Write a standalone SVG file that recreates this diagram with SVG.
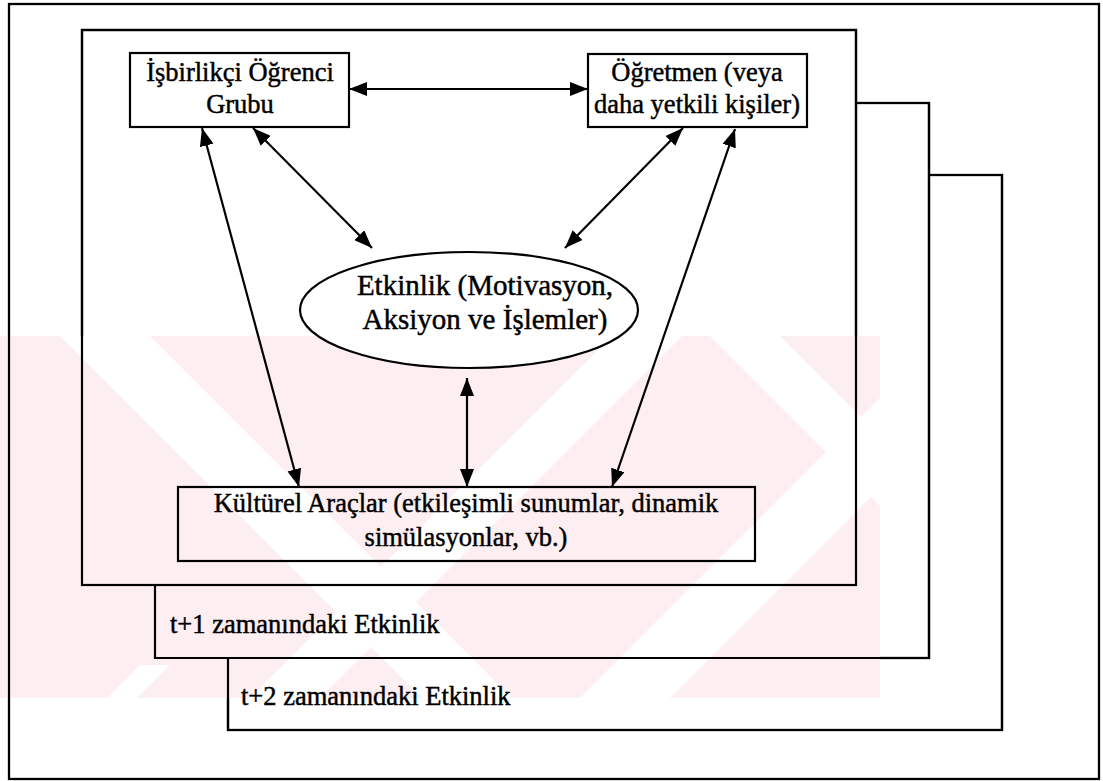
<svg xmlns="http://www.w3.org/2000/svg" width="1103" height="781" viewBox="0 0 1103 781">
  <style>
    .frame { fill: #ffffff; stroke: #000000; stroke-width: 2.3; }
    .box { fill: #ffffff; stroke: #000000; stroke-width: 2.2; }
    .box-clear { fill: none; stroke: #000000; stroke-width: 2.2; }
    .lbl { font-family: "Liberation Serif", "DejaVu Serif", "Times New Roman", serif; font-size: 26.5px; fill: #000000; stroke: #000000; stroke-width: 0.45; }
    .lbl-big { font-family: "Liberation Serif", "DejaVu Serif", "Times New Roman", serif; font-size: 29px; fill: #000000; stroke: #000000; stroke-width: 0.45; }
    .mid { text-anchor: middle; }
    .link { stroke: #000000; stroke-width: 2.2; fill: none; marker-start: url(#head); marker-end: url(#head); }
    .stamp { fill: #fdeef1; }
    .gap { fill: #ffffff; }
  </style>
  <defs>
    <marker id="head" markerUnits="userSpaceOnUse" markerWidth="19" markerHeight="14" refX="18" refY="7" orient="auto-start-reverse">
      <path d="M0,0 L18,7 L0,14 Z" fill="#000000"/>
    </marker>
    <clipPath id="stampClip">
      <rect x="0" y="336" width="880" height="362"/>
    </clipPath>
  </defs>

  <rect x="0" y="0" width="1103" height="781" fill="#ffffff"/>

  <!-- stacked activity frames: t+2 (back), t+1, current (front) -->
  <g id="outer-frame">
    <rect class="frame" x="9" y="4" width="1090" height="775"/>
  </g>
  <g id="frame-t2">
    <rect class="frame" x="228" y="175" width="774" height="555"/>
  </g>
  <g id="frame-t1">
    <rect class="frame" x="155" y="103" width="774" height="555"/>
  </g>
  <g id="frame-t0">
    <rect class="frame" x="82" y="30" width="774" height="555"/>
  </g>

  <!-- pale background stamp -->
  <g id="stamp" clip-path="url(#stampClip)">
    <rect class="stamp" x="0" y="336" width="880" height="362"/>
    <polygon class="gap" points="60,336 150,336 512,698 422,698"/>
    <polygon class="gap" points="250,698 320,698 682,336 612,336"/>
    <polygon class="gap" points="580,698 670,698 880,488 880,398"/>
    <polygon class="gap" points="710,336 780,336 880,436 880,506"/>
    <polygon class="gap" points="107,698 137,698 170,665 140,665"/>
  </g>

  <!-- frame outlines drawn again over the stamp -->
  <g id="frame-lines">
    <rect class="box-clear" x="82" y="30" width="774" height="555"/>
    <polyline class="box-clear" points="155,585 155,658 929,658 929,103 856,103"/>
    <polyline class="box-clear" points="228,658 228,730 1002,730 1002,175 929,175"/>
    <line class="box-clear" x1="9" y1="336" x2="9" y2="698"/>
  </g>

  <g id="t1-label">
    <text class="lbl" x="170" y="633">t+1 zamanındaki Etkinlik</text>
  </g>
  <g id="t2-label">
    <text class="lbl" x="241" y="705">t+2 zamanındaki Etkinlik</text>
  </g>

  <!-- connectors -->
  <g id="connectors">
    <line class="link" x1="349" y1="89" x2="588" y2="89"/>
    <line class="link" x1="253" y1="128" x2="372" y2="248"/>
    <line class="link" x1="683" y1="128" x2="565" y2="248"/>
    <line class="link" x1="202" y1="128" x2="299" y2="487"/>
    <line class="link" x1="735" y1="129" x2="612" y2="487"/>
    <line class="link" x1="467" y1="378" x2="467" y2="487"/>
  </g>

  <g id="node-group">
    <rect class="box" x="130" y="53" width="219" height="74"/>
    <text class="lbl mid" x="240" y="81">İşbirlikçi Öğrenci</text>
    <text class="lbl mid" x="240" y="113">Grubu</text>
  </g>

  <g id="node-teacher">
    <rect class="box" x="588" y="54" width="219" height="73"/>
    <text class="lbl mid" x="697" y="81">Öğretmen (veya</text>
    <text class="lbl mid" x="697" y="113">daha yetkili kişiler)</text>
  </g>

  <g id="node-activity">
    <ellipse class="box" cx="469" cy="310" rx="169" ry="58"/>
    <text class="lbl-big mid" x="485" y="295">Etkinlik (Motivasyon,</text>
    <text class="lbl-big mid" x="485" y="329">Aksiyon ve İşlemler)</text>
  </g>

  <g id="node-tools">
    <rect class="box-clear" x="178" y="487" width="577" height="74"/>
    <text class="lbl mid" x="466" y="512">Kültürel Araçlar (etkileşimli sunumlar, dinamik</text>
    <text class="lbl mid" x="466" y="546">simülasyonlar, vb.)</text>
  </g>
</svg>
